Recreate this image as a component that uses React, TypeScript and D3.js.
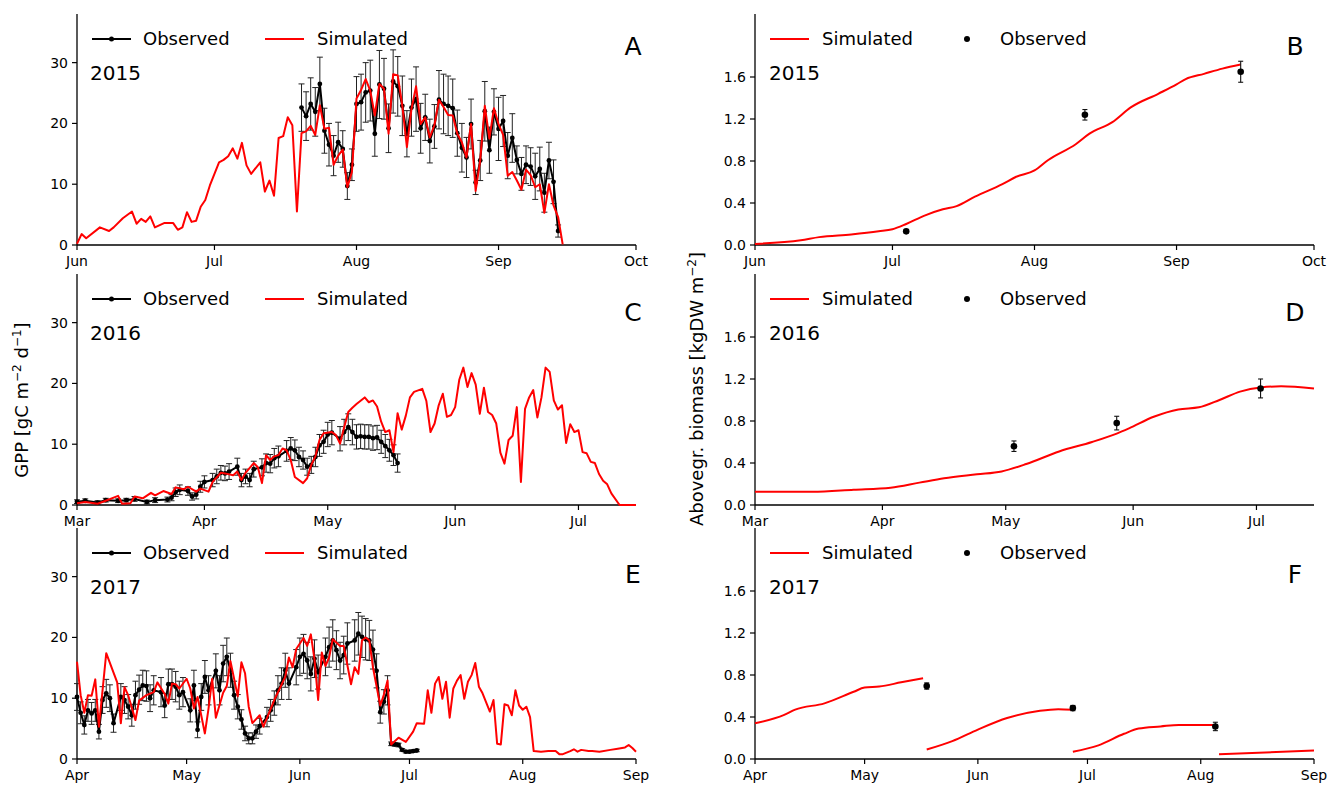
import React from "react";
import * as d3 from "d3";

// ---------------- DATA ----------------
// GPP panels: [dayOffset, value]; observed: [dayOffset, value, error]
const simA: [number, number][] = [[0,0.2],[1,1.8],[2,1.1],[5,2.9],[7,2.3],[8,2.9],[10,4.4],[12,5.5],[13,3.5],[14,4.3],[15,3.8],[16,4.7],[17,2.9],[19,3.6],[21,3.6],[22,2.5],[23,2.9],[24,5.4],[25,3.8],[26,4.0],[27,6.3],[28,7.4],[29,9.8],[31,13.6],[32,14.0],[33,14.6],[34,15.9],[35,14.2],[36,16.8],[37,13.1],[38,11.7],[40,13.6],[41,8.8],[42,10.6],[43,8.1],[44,17.6],[45,17.9],[46,21.0],[47,19.7],[48,5.5],[49,18.4],[50,18.7],[51,19.6],[52,18.1],[53,23.0],[54,19.1],[55,19.3],[56,13.2],[57,14.7],[58,15.7],[59,9.5],[60,12.0],[61,24.1],[62,25.5],[63,27.3],[64,25.4],[65,21.3],[66,26.5],[67,25.7],[68,18.3],[69,28.1],[70,27.9],[71,22.9],[72,16.1],[73,22.4],[74,26.1],[75,19.9],[76,21.0],[77,17.7],[78,19.7],[79,23.9],[80,22.7],[81,21.4],[82,21.3],[83,18.3],[84,16.9],[85,14.4],[86,19.9],[87,8.9],[88,13.9],[89,22.9],[90,17.5],[91,22.5],[92,19.9],[93,18.1],[94,11.4],[95,12.0],[96,10.6],[97,9.1],[98,12.4],[99,11.5],[100,9.5],[101,10.0],[102,5.3],[103,10.0],[104,6.5],[105,4.6],[106,0.1]];
const obsA: [number, number, number][] = [[49,22.6,3.9],[50,21.2,4.0],[51,23.2,4.3],[52,21.9,4.0],[53,26.5,4.4],[54,18.8,3.7],[55,16.5,3.5],[56,14.7,3.3],[57,16.9,3.3],[58,15.8,3.0],[59,9.7,2.2],[60,13.2,2.6],[61,23.2,4.5],[62,23.5,4.6],[63,25.1,4.9],[64,25.4,5.0],[65,18.3,3.7],[66,26.4,5.6],[67,25.7,5.0],[68,19.2,4.0],[69,26.9,5.2],[70,26.1,4.9],[71,22.9,4.9],[72,18.3,3.8],[73,22.6,4.7],[74,24.0,5.3],[75,19.2,4.1],[76,21.0,3.8],[77,17.1,3.6],[78,19.5,3.6],[79,23.9,4.8],[80,23.2,4.9],[81,22.9,4.9],[82,22.5,4.8],[83,18.4,3.8],[84,16.0,4.0],[85,14.4,3.3],[86,19.9,4.1],[87,10.3,2.0],[88,13.9,3.3],[89,22.0,4.9],[90,15.6,3.8],[91,21.9,3.8],[92,19.1,5.2],[93,20.4,4.2],[94,14.7,3.8],[95,17.6,4.0],[96,14.0,2.3],[97,11.7,2.7],[98,13.2,3.1],[99,12.9,3.1],[100,11.3,3.8],[101,12.5,3.6],[102,8.6,3.2],[103,13.9,3.0],[104,10.4,3.6],[105,2.3,1.0]];

const simC: [number, number][] = [[0,0.3],[2,0.5],[5,0.2],[7,0.7],[10,1.5],[11,0.2],[13,0.3],[14,1.4],[16,1.1],[18,2.0],[19,1.6],[21,2.3],[23,1.8],[24,2.9],[26,2.6],[27,3.0],[29,2.2],[30,2.7],[32,2.2],[33,3.8],[35,5.3],[36,5.2],[38,4.9],[39,5.5],[40,4.1],[41,5.3],[43,6.9],[44,6.2],[45,3.6],[46,8.2],[47,7.4],[48,8.0],[49,8.2],[50,9.3],[51,9.0],[52,7.4],[53,4.6],[55,3.6],[56,4.4],[57,6.6],[58,8.0],[59,10.7],[60,11.8],[62,12.0],[63,11.5],[64,10.1],[65,12.8],[66,15.3],[67,16.0],[68,16.6],[70,17.7],[71,16.9],[72,17.2],[73,16.2],[74,13.7],[75,12.0],[76,12.3],[77,8.7],[78,15.1],[79,12.4],[80,14.7],[81,17.7],[82,18.6],[84,19.1],[85,17.1],[86,12.0],[87,13.4],[88,16.4],[89,18.3],[90,14.5],[91,14.8],[92,16.1],[93,20.6],[94,22.6],[95,19.4],[96,21.7],[97,19.8],[98,15.0],[99,19.3],[100,15.3],[101,14.8],[102,13.4],[103,8.6],[104,6.8],[105,10.7],[106,11.4],[107,16.1],[108,3.8],[109,15.8],[110,17.7],[111,18.9],[112,14.4],[113,17.7],[114,22.6],[115,21.9],[116,17.2],[117,15.7],[118,16.4],[119,10.2],[120,13.3],[121,12.0],[122,12.3],[123,8.7],[124,8.5],[125,7.1],[126,6.9],[127,5.1],[128,4.0],[129,3.4],[130,1.9],[132,0.0],[136,0.0]];
const obsC: [number, number, number][] = [[0,0.55,0.3],[2,0.7,0.3],[5,0.4,0.3],[7,0.8,0.3],[10,0.7,0.3],[12,0.8,0.3],[14,1.0,0.4],[17,0.5,0.3],[19,0.8,0.4],[22,0.9,0.4],[23,1.2,0.5],[24,2.1,0.7],[25,2.5,0.8],[27,2.3,0.7],[28,1.4,0.6],[29,1.7,0.7],[30,3.0,0.9],[31,3.8,1.0],[33,4.1,1.1],[34,4.7,1.2],[35,5.3,1.2],[36,5.2,1.2],[37,5.5,1.3],[39,6.3,1.4],[40,4.1,1.1],[41,4.7,1.2],[42,4.1,1.1],[43,5.9,1.3],[45,6.2,1.4],[46,6.9,1.5],[47,6.8,1.5],[48,7.7,1.6],[49,8.0,1.7],[51,8.9,1.7],[52,9.3,1.8],[53,9.0,1.7],[54,7.9,1.6],[55,7.4,1.5],[56,6.3,1.4],[57,6.6,1.4],[58,7.9,1.6],[59,9.8,1.8],[60,10.4,1.9],[61,11.6,2.0],[62,11.9,2.0],[64,10.9,2.0],[65,12.0,2.1],[66,12.8,2.2],[67,12.0,2.1],[68,11.2,2.0],[69,11.3,2.0],[70,11.2,2.0],[71,11.2,2.0],[72,11.0,2.0],[73,11.1,2.0],[74,10.4,1.9],[75,9.7,1.9],[76,9.0,1.8],[77,8.2,1.7],[78,6.9,1.5]];

const simE: [number, number][] = [[0,16.0],[1,10.5],[2,7.6],[3,10.5],[4,10.4],[5,13.1],[6,5.3],[8,17.4],[11,12.6],[12,5.9],[13,11.8],[14,10.5],[16,6.4],[17,9.6],[19,10.5],[21,11.0],[22,12.6],[24,10.7],[25,9.1],[26,12.4],[27,12.3],[28,11.6],[30,13.2],[31,11.6],[32,8.3],[33,10.2],[35,4.2],[36,8.3],[37,13.2],[38,6.8],[40,10.9],[41,12.0],[42,16.1],[44,10.3],[45,15.9],[46,14.1],[47,8.6],[48,5.9],[50,7.2],[51,5.3],[54,9.7],[57,13.5],[58,16.7],[59,15.1],[60,18.1],[62,19.9],[63,18.6],[64,20.5],[65,16.4],[66,9.7],[67,17.5],[68,15.3],[69,16.7],[70,19.7],[72,18.6],[73,18.6],[75,12.3],[76,15.1],[77,14.0],[78,19.5],[79,20.0],[80,19.5],[81,15.1],[83,8.8],[84,10.6],[85,12.9],[86,2.4],[88,3.5],[90,2.8],[92,4.5],[93,5.9],[95,5.8],[96,11.3],[97,7.6],[98,12.4],[99,13.5],[100,9.9],[101,12.7],[102,6.8],[103,11.6],[104,12.9],[105,13.8],[106,9.9],[107,12.7],[108,13.8],[109,15.8],[110,11.9],[111,10.8],[113,7.8],[114,9.7],[115,2.5],[116,2.4],[117,9.0],[118,8.8],[119,7.2],[120,11.3],[121,8.8],[122,8.1],[123,8.6],[124,6.9],[125,1.3],[127,1.2],[129,1.3],[131,1.3],[132,0.8],[133,0.8],[135,1.3],[136,1.6],[137,1.2],[138,1.5],[140,1.3],[141,1.3],[143,1.2],[146,1.5],[148,1.7],[150,1.9],[151,2.3],[152,1.8],[153,1.2]];
const obsE: [number, number, number][] = [[0,10.2,2.2],[1,7.6,1.8],[2,5.6,1.5],[3,8.0,1.8],[4,7.5,1.8],[5,8.0,1.8],[6,4.5,1.2],[7,9.7,2.2],[8,10.8,2.3],[9,10.0,2.2],[10,5.9,1.5],[12,10.2,2.2],[13,9.7,2.2],[14,8.6,2.0],[15,7.2,1.8],[16,10.5,2.3],[17,11.4,2.4],[18,12.1,2.5],[19,12.0,2.5],[20,10.0,2.2],[21,11.3,2.4],[23,11.0,2.4],[24,8.8,2.0],[25,12.3,2.5],[26,12.3,2.5],[27,11.9,2.5],[28,10.5,2.3],[29,11.0,2.4],[31,8.0,1.9],[32,12.1,2.5],[33,4.8,1.3],[34,10.2,2.2],[35,13.5,2.7],[36,11.3,2.4],[38,14.5,2.8],[39,11.3,2.4],[40,15.7,3.0],[41,16.8,3.1],[42,14.6,2.8],[43,10.5,2.3],[44,8.6,2.0],[45,6.5,1.6],[46,4.2,1.2],[47,3.4,0.9],[48,3.4,0.9],[49,4.5,1.1],[50,5.4,1.3],[52,6.9,1.6],[53,8.0,1.8],[54,9.2,2.0],[55,11.3,2.4],[56,12.4,2.6],[57,14.6,2.8],[58,12.4,2.6],[60,15.1,2.9],[61,16.8,3.1],[62,17.3,3.2],[63,16.2,3.0],[64,14.0,2.8],[65,16.5,3.1],[66,14.3,2.8],[68,16.8,3.1],[69,18.4,3.3],[70,19.5,3.4],[71,17.9,3.2],[72,16.2,3.0],[73,17.1,3.1],[74,19.0,3.4],[76,19.5,3.4],[77,20.6,3.5],[78,20.1,3.4],[79,19.7,3.4],[80,19.5,3.3],[81,18.0,3.2],[82,14.5,2.8],[83,7.7,1.8],[84,9.4,2.0],[85,11.3,2.4],[86,2.5,0.3],[87,2.4,0.3],[88,2.3,0.3],[89,1.5,0.2],[90,1.2,0.2],[91,1.2,0.2],[92,1.3,0.2],[93,1.4,0.2]];

// Biomass panels
const simB: [number, number][] = [[0,0.01],[10,0.045],[14,0.075],[21,0.1],[27,0.13],[30,0.15],[33,0.2],[37,0.28],[41,0.34],[44,0.37],[48,0.46],[54,0.58],[57,0.65],[61,0.71],[64,0.81],[70,0.96],[73,1.06],[78,1.17],[82,1.31],[88,1.44],[92,1.53],[94,1.58],[98,1.63],[102,1.68],[106,1.72]];
const obsB: [number, number, number][] = [[33,0.13,0.015],[72,1.24,0.05],[106,1.65,0.1]];

const simD: [number, number][] = [[0,0.127],[14,0.127],[24,0.146],[33,0.165],[40,0.213],[46,0.254],[54,0.292],[60,0.32],[66,0.39],[74,0.51],[82,0.6],[88,0.68],[91,0.73],[97,0.84],[103,0.91],[108,0.93],[113,1.0],[118,1.08],[123,1.12],[128,1.13],[136,1.11]];
const obsD: [number, number, number][] = [[63,0.56,0.05],[88,0.78,0.065],[123,1.11,0.09]];

const simF1: [number, number][] = [[0,0.34],[8,0.42],[11,0.47],[19,0.53],[27,0.64],[30,0.68],[34,0.69],[40,0.73],[46,0.77]];
const simF2: [number, number][] = [[47,0.09],[54,0.17],[61,0.28],[69,0.39],[78,0.46],[83,0.475],[87,0.47]];
const simF3: [number, number][] = [[87,0.07],[94,0.13],[101,0.24],[105,0.29],[111,0.31],[116,0.325],[126,0.325]];
const simF4: [number, number][] = [[127,0.045],[153,0.08]];
const obsF: [number, number, number][] = [[47,0.695,0.03],[87,0.485,0.025],[126,0.31,0.04]];

const gppTicks = [0, 10, 20, 30];
const bioTicks = [0, 0.4, 0.8, 1.2, 1.6];
const years = ["2015", "2016", "2017"];
const gppLetters = ["A", "C", "E"];
const bioLetters = ["B", "D", "F"];
const starts = [new Date(2015, 5, 1), new Date(2016, 2, 1), new Date(2017, 3, 1)];
const ends = [new Date(2015, 9, 1), new Date(2016, 6, 15), new Date(2017, 8, 1)];

// ---------------- LAYOUT ----------------
const W = 1329, H = 785;
const LX = [77, 636];
const RX = [755, 1314];
const ROW_BOTTOM = [245, 505, 759];
const ROW_H = 231;
const LETTER_Y = [55, 321, 583];
const FONT = "DejaVu Sans, sans-serif";
const RED = "#ff0000";

const dayToDate = (start: Date, d: number) => new Date(start.getTime() + d * 86400000);
const fmtMonth = d3.timeFormat("%b");

function Axes({ x, y, x0, x1, top, bottom, yTicks, yFmt }: any) {
  const months = d3.timeMonth.range(x.domain()[0], d3.timeDay.offset(x.domain()[1], 1));
  return (
    <g fontFamily={FONT} fontSize={14} fill="#000">
      <line x1={x0} x2={x0} y1={top} y2={bottom} stroke="#000" strokeWidth={1.3} />
      <line x1={x0} x2={x1} y1={bottom} y2={bottom} stroke="#000" strokeWidth={1.3} />
      {months.map((m: Date, i: number) => (
        <g key={i}>
          <line x1={x(m)} x2={x(m)} y1={bottom} y2={bottom + 5} stroke="#000" strokeWidth={1.2} />
          <text x={x(m)} y={bottom + 21} textAnchor="middle">{fmtMonth(m)}</text>
        </g>
      ))}
      {yTicks.map((t: number, i: number) => (
        <g key={i}>
          <line x1={x0 - 5} x2={x0} y1={y(t)} y2={y(t)} stroke="#000" strokeWidth={1.2} />
          <text x={x0 - 9} y={y(t) + 5} textAnchor="end">{yFmt(t)}</text>
        </g>
      ))}
    </g>
  );
}

function ErrorBars({ data, x, y, start, cap, color, width }: any) {
  return (
    <g stroke={color} strokeWidth={width}>
      {data.map((d: [number, number, number], i: number) => {
        const px = x(dayToDate(start, d[0]));
        const y1 = y(d[1] - d[2]);
        const y2 = y(d[1] + d[2]);
        return (
          <g key={i}>
            <line x1={px} x2={px} y1={y1} y2={y2} />
            <line x1={px - cap} x2={px + cap} y1={y1} y2={y1} />
            <line x1={px - cap} x2={px + cap} y1={y2} y2={y2} />
          </g>
        );
      })}
    </g>
  );
}

function GppPanel({ row, sim, obs }: any) {
  const start = starts[row], end = ends[row];
  const bottom = ROW_BOTTOM[row], top = bottom - ROW_H;
  const x = d3.scaleTime().domain([start, end]).range(LX);
  const y = d3.scaleLinear().domain([0, 38]).range([bottom, top]);
  const line = d3.line<any>().x((d) => x(dayToDate(start, d[0]))).y((d) => y(d[1]));
  const lx = LX[0];
  return (
    <g>
      <Axes x={x} y={y} x0={LX[0]} x1={LX[1]} top={top} bottom={bottom} yTicks={gppTicks} yFmt={(t: number) => String(t)} />
      <ErrorBars data={obs} x={x} y={y} start={start} cap={3} color="#222" width={1} />
      <path d={line(obs) || ""} fill="none" stroke="#000" strokeWidth={2} />
      {obs.map((d: any, i: number) => (
        <circle key={i} cx={x(dayToDate(start, d[0]))} cy={y(d[1])} r={2.4} fill="#000" />
      ))}
      <path d={line(sim) || ""} fill="none" stroke={RED} strokeWidth={2} strokeLinejoin="round" />
      {/* legend */}
      <g fontFamily={FONT} fontSize={18}>
        <line x1={lx + 15} x2={lx + 54} y1={top + 25} y2={top + 25} stroke="#000" strokeWidth={2} />
        <circle cx={lx + 34.5} cy={top + 25} r={2.5} fill="#000" />
        <text x={lx + 66} y={top + 31}>Observed</text>
        <line x1={lx + 188} x2={lx + 227} y1={top + 25} y2={top + 25} stroke={RED} strokeWidth={2} />
        <text x={lx + 240} y={top + 31}>Simulated</text>
        <text x={lx + 13} y={top + 66} fontSize={20}>{years[row]}</text>
        <text x={lx + 556} y={LETTER_Y[row]} fontSize={25} textAnchor="middle">{gppLetters[row]}</text>
      </g>
    </g>
  );
}

function BioPanel({ row, sims, obs }: any) {
  const start = starts[row], end = ends[row];
  const bottom = ROW_BOTTOM[row], top = bottom - ROW_H;
  const x = d3.scaleTime().domain([start, end]).range(RX);
  const y = d3.scaleLinear().domain([0, 2.2]).range([bottom, top]);
  const line = d3.line<any>().x((d) => x(dayToDate(start, d[0]))).y((d) => y(d[1])).curve(d3.curveMonotoneX);
  const lx = RX[0];
  return (
    <g>
      <Axes x={x} y={y} x0={RX[0]} x1={RX[1]} top={top} bottom={bottom} yTicks={bioTicks} yFmt={d3.format(".1f")} />
      {sims.map((s: any, i: number) => (
        <path key={i} d={line(s) || ""} fill="none" stroke={RED} strokeWidth={2} />
      ))}
      <ErrorBars data={obs} x={x} y={y} start={start} cap={2.5} color="#111" width={1.1} />
      {obs.map((d: any, i: number) => (
        <circle key={i} cx={x(dayToDate(start, d[0]))} cy={y(d[1])} r={3.3} fill="#000" />
      ))}
      <g fontFamily={FONT} fontSize={18}>
        <line x1={lx + 15} x2={lx + 54} y1={top + 25} y2={top + 25} stroke={RED} strokeWidth={2} />
        <text x={lx + 67} y={top + 31}>Simulated</text>
        <circle cx={lx + 212} cy={top + 25} r={3} fill="#000" />
        <text x={lx + 245} y={top + 31}>Observed</text>
        <text x={lx + 14} y={top + 66} fontSize={20}>{years[row]}</text>
        <text x={lx + 540} y={LETTER_Y[row]} fontSize={25} textAnchor="middle">{bioLetters[row]}</text>
      </g>
    </g>
  );
}

export default function App() {
  return (
    <svg width={W} height={H} style={{ position: "absolute", left: 0, top: 0, background: "#fff" }}>
      <rect width={W} height={H} fill="#fff" />
      <GppPanel row={0} sim={simA} obs={obsA} />
      <GppPanel row={1} sim={simC} obs={obsC} />
      <GppPanel row={2} sim={simE} obs={obsE} />
      <BioPanel row={0} sims={[simB]} obs={obsB} />
      <BioPanel row={1} sims={[simD]} obs={obsD} />
      <BioPanel row={2} sims={[simF1, simF2, simF3, simF4]} obs={obsF} />
      <text transform="translate(28,400) rotate(-90)" textAnchor="middle" fontFamily={FONT} fontSize={18}>
        GPP [gC m<tspan dy={-7} fontSize={12}>−2</tspan><tspan dy={7}> d</tspan><tspan dy={-7} fontSize={12}>−1</tspan><tspan dy={7}>]</tspan>
      </text>
      <text transform="translate(703,389) rotate(-90)" textAnchor="middle" fontFamily={FONT} fontSize={18}>
        Abovegr. biomass [kgDW m<tspan dy={-7} fontSize={12}>−2</tspan><tspan dy={7}>]</tspan>
      </text>
    </svg>
  );
}
